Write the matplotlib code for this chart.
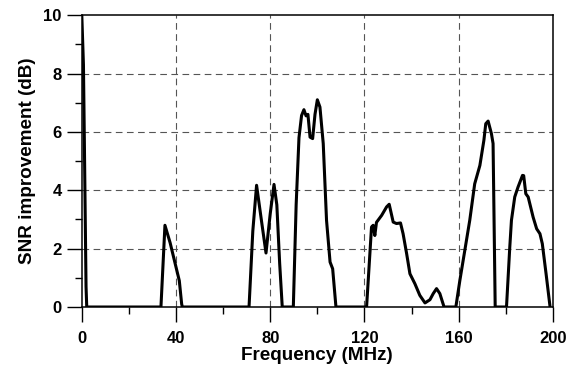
import matplotlib
matplotlib.use("Agg")
import matplotlib.pyplot as plt
import numpy as np

plt.rcParams['font.family'] = ['Liberation Sans', 'DejaVu Sans']
plt.rcParams['font.weight'] = 'bold'

freq_mhz = [0, 0.7, 1.1, 1.8, 2.1,
            33.6, 35.3, 37.5, 39.6, 41.4, 42.4, 42.7,
            71.0, 72.6, 74.2, 76.2, 78.2, 80.0, 81.6, 82.8, 84.0, 85.1,
            89.8, 91.0, 92.2, 93.3, 94.3, 95.2, 96.0, 96.9, 98.0, 99.0, 100.0, 101.1,
            102.5, 103.9, 105.4, 106.5, 107.9,
            120.9, 123.0, 123.7, 124.4, 125.1, 127.3, 129.4, 130.5, 132.2, 133.6,
            135.3, 136.4, 137.9, 139.3, 141.4, 143.5, 145.7, 147.8, 149.2, 150.6,
            152.0, 153.8,
            158.8, 160.5, 162.6, 164.7, 166.8, 169.0, 170.7, 171.5, 172.5, 173.9,
            174.6, 175.5,
            180.3, 181.7, 182.4, 183.8, 185.2, 187.1, 187.6, 188.5, 189.5, 191.6,
            193.1, 194.5, 195.5, 197.1, 198.8]
snr_db = [10.0, 8.3, 5.6, 0.7, 0.0,
          0.0, 2.8, 2.2, 1.5, 0.9, 0.1, 0.0,
          0.0, 2.6, 4.17, 3.0, 1.85, 3.2, 4.2, 3.5, 1.5, 0.0,
          0.0, 3.5, 5.8, 6.56, 6.76, 6.55, 6.6, 5.82, 5.77, 6.6, 7.1, 6.85,
          5.6, 2.97, 1.54, 1.31, 0.0,
          0.0, 2.74, 2.8, 2.45, 2.9, 3.14, 3.43, 3.52, 2.91, 2.86,
          2.88, 2.51, 1.83, 1.14, 0.8, 0.4, 0.14, 0.25, 0.46, 0.63,
          0.46, 0.0,
          0.0, 0.91, 1.94, 2.97, 4.22, 4.85, 5.71, 6.28, 6.37, 5.94,
          5.6, 0.0,
          0.0, 2.06, 2.97, 3.77, 4.11, 4.51, 4.5, 3.88, 3.77, 3.08,
          2.68, 2.51, 2.17, 1.14, 0.0]

x_ticks = [0, 40, 80, 120, 160, 200]
y_ticks = [0, 2, 4, 6, 8, 10]

fig = plt.figure(figsize=(5.7, 3.69), dpi=100)
ax = fig.add_axes([0.1435, 0.168, 0.8265, 0.791])

ax.plot(freq_mhz, snr_db, color='black', linewidth=2.2, solid_joinstyle='round', zorder=3)

ax.set_xlim(0, 200)
ax.set_ylim(0, 10)
ax.set_xticks(x_ticks)
ax.set_yticks(y_ticks)
ax.set_xticks([20, 60, 100, 140, 180], minor=True)
ax.set_yticks([1, 3, 5, 7, 9], minor=True)
ax.tick_params(axis='both', which='major', direction='out', length=10.5, width=1,
               labelsize=12)
ax.tick_params(axis='x', which='major', pad=6.5)
ax.tick_params(axis='y', which='major', pad=4)
ax.tick_params(axis='both', which='minor', direction='out', length=5, width=1)
for lbl in ax.get_xticklabels() + ax.get_yticklabels():
    lbl.set_fontweight('bold')

for v in x_ticks[1:-1]:
    ax.axvline(v, color='#555555', linestyle=(0, (6, 4)), linewidth=0.8, zorder=1)
for v in y_ticks[1:-1]:
    ax.axhline(v, color='#555555', linestyle=(0, (6, 4)), linewidth=0.8, zorder=1)

for s in ax.spines.values():
    s.set_linewidth(1.1)

ax.set_xlabel('Frequency (MHz)', fontsize=13.6, fontweight='bold', labelpad=1)
ax.set_ylabel('SNR improvement (dB)', fontsize=13.6, fontweight='bold', labelpad=5)

fig.savefig('out.png', dpi=100)
